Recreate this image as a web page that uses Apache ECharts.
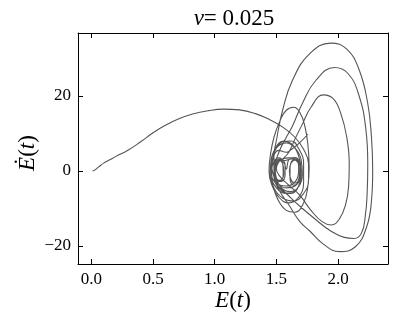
<!DOCTYPE html>
<html><head><meta charset="utf-8">
<script src="https://cdn.jsdelivr.net/npm/echarts@6/dist/echarts.min.js"></script>
<style>html,body{margin:0;padding:0;background:#fff}#c{width:398px;height:327px}</style>
</head><body><div id="c"></div>
<script>
// Trajectory in phase space: pairs of [E(t), dE/dt], in time order
const transient = [[0.01,0],[0.03,0.3],[0.06,1.1],[0.1,2.1],[0.15,3.0],[0.2,3.9],[0.3,5.6],[0.4,7.8],[0.5,10.2],[0.6,12.2],[0.7,13.8],[0.82,15.2],[0.95,16.1],[1.07,16.5],[1.2,16.3],[1.33,15.3],[1.45,13.6],[1.56,11.5],[1.65,9.0],[1.72,5.8],[1.76,2.0]];
const loop1 = [[1.76,-2.5],[1.72,-6],[1.64,-8],[1.55,-7.2],[1.48,-4.5],[1.45,-0.5],[1.46,3.5],[1.51,6.5],[1.58,7.5],[1.65,6.2],[1.7,3],[1.71,-1],[1.68,-4.2],[1.61,-5.5],[1.54,-4.5],[1.5,-2]];
const loop2 = [[1.49,0.5],[1.5,2.6],[1.54,3.2],[1.57,1.5],[1.57,-1],[1.54,-2.8],[1.5,-2.6],[1.485,-0.5],[1.49,1.8],[1.52,2.8],[1.56,2.2],[1.58,0.5],[1.6,3],[1.65,3.6],[1.69,2.2],[1.7,-0.5],[1.68,-3],[1.64,-3.8],[1.61,-2],[1.61,0.5],[1.63,2.8],[1.67,3],[1.695,1],[1.69,-2],[1.65,-4],[1.58,-4.5],[1.51,-3.2],[1.47,-0.5]];
const loop3 = [[1.46,2.5],[1.49,5.5],[1.55,7.8],[1.62,8],[1.68,6],[1.72,2],[1.72,-3],[1.68,-7],[1.6,-8.5],[1.52,-7],[1.46,-3.5],[1.44,0]];
const loop4 = [[1.45,4],[1.48,9],[1.53,13.5],[1.58,16.2],[1.64,17],[1.69,15.6],[1.73,12],[1.755,7],[1.765,1],[1.755,-4],[1.72,-8.5],[1.65,-11],[1.58,-10.5],[1.51,-7.5],[1.47,-3.5],[1.46,0]];
const loop5 = [[1.48,2.5],[1.52,3.5],[1.55,2.2],[1.555,-0.5],[1.53,-2.8],[1.5,-2.4],[1.49,0],[1.51,2.2],[1.55,3.2]];
const loop6 = [[1.6,5],[1.65,8.5],[1.71,12.5],[1.78,17],[1.88,20.3],[1.96,19.3],[2.02,15.5],[2.07,9],[2.09,2],[2.085,-4],[2.06,-9],[2.01,-12.8],[1.945,-14.4],[1.87,-13.5],[1.78,-10.5],[1.69,-6.5],[1.6,-3.8],[1.53,-1.5],[1.5,0.5]];
const loop7 = [[1.53,2.8],[1.6,3.5],[1.66,3.2],[1.69,1.2],[1.685,-1.5],[1.655,-3.2],[1.62,-2.5],[1.605,0],[1.62,2.2],[1.66,3.0],[1.68,0.5],[1.66,-2.5],[1.58,-4],[1.5,-3]];
const loop8 = [[1.48,0],[1.52,5],[1.58,9],[1.63,12],[1.71,18],[1.82,24.2],[1.97,27.6],[2.08,26],[2.17,20],[2.225,11],[2.24,2],[2.235,-6],[2.22,-12],[2.19,-16.5],[2.13,-18],[2.05,-17.7],[1.94,-16],[1.82,-13],[1.69,-9.4],[1.58,-6],[1.5,-3.5],[1.46,-1]];
const loop9 = [[1.46,2],[1.49,6],[1.56,8],[1.63,7],[1.68,4],[1.7,0],[1.68,-4],[1.62,-6],[1.55,-5.5],[1.5,-3]];
const loop10 = [[1.48,0],[1.48,4],[1.5,8.2],[1.55,16.2],[1.63,24.2],[1.77,31.3],[1.94,34.1],[2.07,32.5],[2.17,27],[2.24,18],[2.27,9],[2.28,0],[2.27,-8],[2.23,-15],[2.14,-20.2],[2.01,-21.5],[1.88,-19.5],[1.77,-16],[1.69,-13.5],[1.6,-9],[1.52,-5],[1.48,-1.5]];
const loop11 = [[1.48,1.5],[1.51,3],[1.55,2],[1.56,-0.5],[1.53,-2.5],[1.5,-2],[1.49,0.5],[1.52,2.6],[1.57,2.8],[1.62,3.2],[1.68,2],[1.7,-1],[1.66,-5],[1.58,-6],[1.5,-4.5],[1.46,-1],[1.47,3],[1.52,5.5],[1.58,5]];
const finalLeg = [[1.6,5.2],[1.68,7.3],[1.755,9.8]];

const xTicks = [0.0, 0.5, 1.0, 1.5, 2.0];
const yTicks = [-20, 0, 20];

const trajectory = [].concat(transient, loop1, loop2, loop3, loop4, loop5, loop6, loop7, loop8, loop9, loop10, loop11, finalLeg);

const SERIF = '"Liberation Serif", "DejaVu Serif", serif';
const near = (arr, v) => arr.find(t => Math.abs(t - v) < 1e-6);

function frameAxis(pos, isX, showLabel) {
  return {
    type: 'value',
    position: pos,
    min: isX ? -0.108 : -24.8,
    max: isX ? 2.404 : 36.8,
    splitNumber: isX ? 5 : 3,
    minInterval: isX ? 0.5 : 20,
    maxInterval: isX ? 0.5 : 20,
    splitLine: { show: false },
    axisLine: { show: true, onZero: false, lineStyle: { color: '#000', width: 1 } },
    axisTick: { show: true, inside: true, length: 5, lineStyle: { color: '#000', width: 1 } },
    axisLabel: {
      show: showLabel,
      showMinLabel: false,
      showMaxLabel: false,
      margin: 7,
      color: '#000',
      fontFamily: SERIF,
      fontSize: 17,
      formatter: function (v) {
        if (isX) {
          const t = near(xTicks, v);
          return t === undefined ? '' : t.toFixed(1);
        }
        const t = near(yTicks, v);
        return t === undefined ? '' : String(t).replace('-', '\u2212');
      }
    }
  };
}

const chart = echarts.init(document.getElementById('c'), null, { renderer: 'canvas' });
chart.setOption({
  animation: false,
  backgroundColor: '#fff',
  grid: { left: 78, right: 10, top: 33, bottom: 63, containLabel: false, outerBoundsMode: 'none' },
  xAxis: [frameAxis('bottom', true, true), frameAxis('top', true, false)],
  yAxis: [frameAxis('left', false, true), frameAxis('right', false, false)],
  series: [{
    type: 'line',
    xAxisIndex: 0,
    yAxisIndex: 0,
    data: trajectory,
    showSymbol: false,
    smooth: 0.45,
    clip: true,
    lineStyle: { color: '#555555', width: 1.1 }
  }],
  graphic: [
    { type: 'text', x: 234, y: 19, style: {
      text: '{i|ν}= 0.025', fill: '#000', fontFamily: SERIF, fontSize: 23, align: 'center', verticalAlign: 'middle',
      rich: { i: { fontStyle: 'italic', fontFamily: SERIF, fontSize: 23 } } } },
    { type: 'text', x: 233, y: 301, style: {
      text: '{i|E}({i|t})', fill: '#000', fontFamily: SERIF, fontSize: 23, align: 'center', verticalAlign: 'middle',
      rich: { i: { fontStyle: 'italic', fontFamily: SERIF, fontSize: 23 } } } },
    { type: 'text', x: 28, y: 153, rotation: Math.PI / 2, style: {
      text: '{i|\u0116}({i|t})', fill: '#000', fontFamily: SERIF, fontSize: 23, align: 'center', verticalAlign: 'middle',
      rich: { i: { fontStyle: 'italic', fontFamily: SERIF, fontSize: 23 } } } }
  ]
});
</script></body></html>
